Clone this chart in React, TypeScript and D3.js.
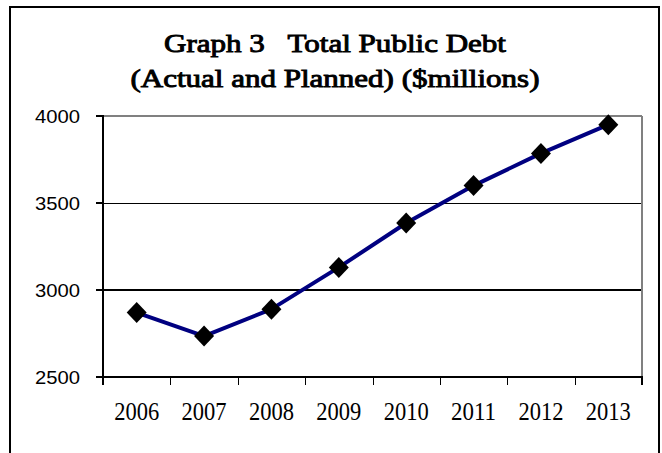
import React from "react";
import * as d3 from "d3";

const years: string[] = ["2006", "2007", "2008", "2009", "2010", "2011", "2012", "2013"];
const debt: number[] = [2870, 2735, 2890, 3130, 3385, 3600, 3785, 3950];
const yTicks: number[] = [2500, 3000, 3500, 4000];
const titleLines: string[] = ["Graph 3   Total Public Debt", "(Actual and Planned) ($millions)"];

export default function App() {
  const W = 662, H = 453;
  const left = 103, right = 642, top = 116, bottom = 377;
  const x = d3.scaleBand<string>().domain(years).range([left, right]).padding(0);
  const y = d3.scaleLinear().domain([2500, 4000]).range([bottom, top]);
  const cx = (d: string) => (x(d) as number) + x.bandwidth() / 2;
  const line = d3.line<number>().x((_, i) => cx(years[i])).y((v) => y(v));
  const boundaries = [...years.map((d) => x(d) as number), right];
  const diamond = (px: number, py: number) => {
    const r = 10, ry = 10.5;
    return `M${px},${py - ry}L${px + r},${py}L${px},${py + ry}L${px - r},${py}Z`;
  };
  const serif = "'Liberation Serif', 'Times New Roman', serif";

  return (
    <div style={{ position: "absolute", left: 0, top: 0 }}>
      <svg width={W} height={H} style={{ display: "block", background: "#fff" }}>
        <rect x={0} y={0} width={W} height={H} fill="#fff" />
        <rect x={10} y={7} width={649} height={470} fill="none" stroke="#000" strokeWidth={2} />
        {titleLines.map((t, i) => (
          <text
            key={i}
            x={335}
            y={i === 0 ? 52 : 87}
            textAnchor="middle"
            fontFamily={serif}
            fontWeight={400}
            fontSize={25}
            textLength={i === 0 ? 342 : 409}
            lengthAdjust="spacingAndGlyphs"
            fill="#000"
            stroke="#000"
            strokeWidth={0.9}
            style={{ whiteSpace: "pre" }}
          >
            {t}
          </text>
        ))}
        {yTicks.filter((t) => t !== 2500).map((t) => {
          const w = t === 3500 ? 1 : 2;
          const yy = w === 1 ? Math.round(y(t)) + 0.5 : Math.round(y(t));
          return (
            <line
              key={t}
              x1={left}
              x2={right}
              y1={yy}
              y2={yy}
              stroke={t === 4000 ? "#808080" : "#000"}
              strokeWidth={w}
            />
          );
        })}
        <line x1={right} x2={right} y1={top} y2={bottom} stroke="#808080" strokeWidth={2} />
        <line x1={left} x2={left} y1={top - 1} y2={bottom + 1} stroke="#000" strokeWidth={2} />
        <line x1={left - 1} x2={right + 1} y1={bottom} y2={bottom} stroke="#000" strokeWidth={2} />
        {yTicks.map((t) => (
          <g key={t}>
            <line x1={96} x2={left} y1={Math.round(y(t))} y2={Math.round(y(t))} stroke="#000" strokeWidth={2} />
            <text
              x={80}
              y={y(t)}
              dy="0.35em"
              textAnchor="end"
              fontFamily="'Liberation Sans', Arial, sans-serif"
              fontSize={19}
              textLength={45}
              lengthAdjust="spacingAndGlyphs"
              fill="#000"
            >
              {t}
            </text>
          </g>
        ))}
        {boundaries.map((b, i) => {
          const edge = i === 0 || i === boundaries.length - 1;
          const bx = edge ? Math.round(b) : Math.round(b) + 0.5;
          return (
            <line key={i} x1={bx} x2={bx} y1={bottom} y2={bottom + 8} stroke="#000" strokeWidth={edge ? 2 : 1} />
          );
        })}
        {years.map((d) => (
          <text
            key={d}
            x={cx(d)}
            y={420}
            textAnchor="middle"
            fontFamily={serif}
            fontSize={25}
            textLength={45}
            lengthAdjust="spacingAndGlyphs"
            fill="#000"
          >
            {d}
          </text>
        ))}
        <path d={line(debt) || ""} fill="none" stroke="#000080" strokeWidth={4} strokeLinejoin="round" />
        {debt.map((v, i) => (
          <path key={i} d={diamond(cx(years[i]), y(v))} fill="#000" />
        ))}
      </svg>
    </div>
  );
}
